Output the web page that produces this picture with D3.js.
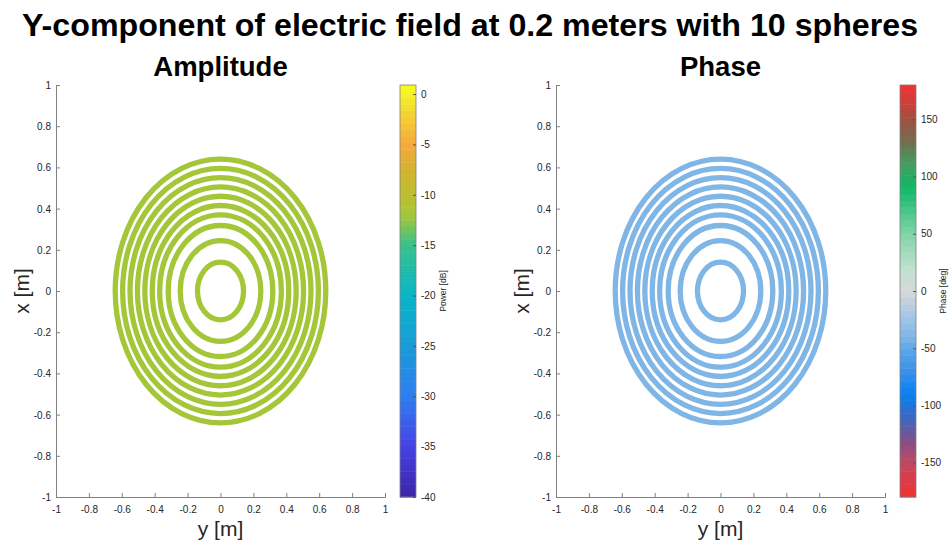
<!DOCTYPE html>
<html>
<head>
<meta charset="utf-8">
<script src="https://cdn.jsdelivr.net/npm/d3@7"></script>
<style>
  body { margin: 0; background: #fff; }
  svg { font-family: "Liberation Sans", Arial, Helvetica, sans-serif; }
</style>
</head>
<body>
<svg id="fig" width="952" height="546"></svg>
<script>
// ring radii of the 10 spheres cut (m)
var ringRadius = [0.14, 0.245, 0.318, 0.37, 0.415, 0.46, 0.505, 0.55, 0.595, 0.64];
// field values on the rings
var ringPower = [-12, -12, -12, -12, -12, -12, -12, -12, -12, -12];   // dB
var ringPhase = [-40, -40, -40, -40, -40, -40, -40, -40, -40, -40];   // deg

var axisTicks = [-1, -0.8, -0.6, -0.4, -0.2, 0, 0.2, 0.4, 0.6, 0.8, 1];
var powerTicks = [-40, -35, -30, -25, -20, -15, -10, -5, 0];
var phaseTicks = [-150, -100, -50, 0, 50, 100, 150];

// colormaps (value, colour)
var powerStops = [-40, -35, -30, -25, -20, -15, -12, -10, -7, -5, -2, 0, 0.9];
var powerCols = ["#3b25a8", "#4641e4", "#2d7ef0", "#1a9bd8", "#08b6c8", "#38c28c",
  "#a4c639", "#bcbf2e", "#d8b231", "#f8a93c", "#f3d334", "#f4f32a", "#f8fa12"];
var phaseStops = [-180, -150, -130, -110, -90, -70, -50, -40, -20, 0, 20, 50, 90, 110, 130, 150, 180];
var phaseCols = ["#f53030", "#c04860", "#80508a", "#3a68c0", "#0a80f0", "#3a90e8",
  "#5ea8ea", "#80b6e6", "#a8c8e4", "#d8d8d8", "#c0e0d0", "#80d4a8", "#10b868",
  "#40a060", "#707050", "#a05040", "#f53030"];

var powerColor = d3.scaleLinear().domain(powerStops).range(powerCols);
var phaseColor = d3.scaleLinear().domain(phaseStops).range(phaseCols);

var svg = d3.select("#fig");
var axisGray = "#808080", textGray = "#262626";

svg.append("text")
  .attr("x", 470).attr("y", 36)
  .attr("text-anchor", "middle")
  .style("font-size", "32.2px").style("font-weight", "bold")
  .text("Y-component of electric field at 0.2 meters with 10 spheres");

function fmt(d) { return String(+d.toFixed(2)); }

function panel(opt) {
  var x = d3.scaleLinear().domain([-1, 1]).range([opt.left, opt.left + 329]);
  var y = d3.scaleLinear().domain([-1, 1]).range([497, 85]);
  var g = svg.append("g");

  g.append("text")
    .attr("x", x(0)).attr("y", 76)
    .attr("text-anchor", "middle")
    .style("font-size", "27.5px").style("font-weight", "bold")
    .text(opt.title);

  // rings
  g.selectAll(".ring")
    .data(ringRadius)
    .enter()
    .append("ellipse")
    .attr("class", "ring")
    .attr("cx", x(0)).attr("cy", y(0))
    .attr("rx", function (d) { return x(d) - x(0); })
    .attr("ry", function (d) { return y(0) - y(d); })
    .attr("fill", "none")
    .attr("stroke-width", 5.3)
    .attr("stroke", function (d, i) { return opt.color(opt.values[i]); });

  // axes, ticks inside
  var ya = g.append("g")
    .attr("transform", "translate(" + opt.left + ",0)")
    .call(d3.axisLeft(y).tickValues(axisTicks).tickSize(-4).tickPadding(5).tickFormat(fmt));
  var xa = g.append("g")
    .attr("transform", "translate(0,497)")
    .call(d3.axisBottom(x).tickValues(axisTicks).tickSize(-4).tickPadding(8).tickFormat(fmt));
  [ya, xa].forEach(function (a) {
    a.select(".domain").attr("stroke", axisGray);
    a.selectAll(".tick line").attr("stroke", axisGray);
    a.selectAll("text").attr("fill", textGray).style("font-size", "10px")
      .style("font-family", "'Liberation Sans', Arial, sans-serif");
  });
  ya.selectAll("text").attr("dy", "0.35em");
  xa.selectAll("text").attr("dy", "0.75em");

  g.append("text")
    .attr("x", x(0)).attr("y", 536)
    .attr("text-anchor", "middle")
    .attr("fill", textGray)
    .style("font-size", "21px")
    .text("y [m]");
  g.append("text")
    .attr("transform", "translate(" + (opt.left - 27) + "," + y(0) + ") rotate(-90)")
    .attr("text-anchor", "middle")
    .attr("fill", textGray)
    .style("font-size", "21px")
    .text("x [m]");

  // colorbar
  var cb = d3.scaleLinear().domain(opt.range).range([497, 85]);
  var n = 64, step = (opt.range[1] - opt.range[0]) / n;
  var cells = d3.range(n).map(function (i) { return opt.range[0] + i * step; });
  var cbx = opt.left + 344;
  g.selectAll(".cell")
    .data(cells)
    .enter()
    .append("rect")
    .attr("x", cbx).attr("width", 16)
    .attr("y", function (d) { return cb(d + step); })
    .attr("height", function (d) { return cb(d) - cb(d + step) + 0.5; })
    .attr("fill", function (d) { return opt.color(d + step / 2); });
  g.append("rect")
    .attr("x", cbx).attr("y", 85).attr("width", 16).attr("height", 412)
    .attr("fill", "none").attr("stroke", axisGray).attr("stroke-width", 0.8);
  var ca = g.append("g")
    .attr("transform", "translate(" + (cbx + 16) + ",0)")
    .call(d3.axisRight(cb).tickValues(opt.ticks).tickSize(-3).tickPadding(5).tickFormat(fmt));
  ca.select(".domain").remove();
  ca.selectAll(".tick line").attr("stroke", "#555");
  ca.selectAll("text").attr("fill", textGray).style("font-size", "10px")
    .style("font-family", "'Liberation Sans', Arial, sans-serif");
  g.append("text")
    .attr("transform", "translate(" + (cbx + 46) + "," + y(0) + ") rotate(-90)")
    .attr("text-anchor", "middle")
    .attr("fill", textGray)
    .style("font-size", "8.5px")
    .text(opt.cbLabel);
}

panel({ left: 56, title: "Amplitude", values: ringPower, color: powerColor,
  range: [-40, 0.9], ticks: powerTicks, cbLabel: "Power [dB]" });
panel({ left: 556, title: "Phase", values: ringPhase, color: phaseColor,
  range: [-180, 180], ticks: phaseTicks, cbLabel: "Phase [deg]" });
</script>
</body>
</html>
